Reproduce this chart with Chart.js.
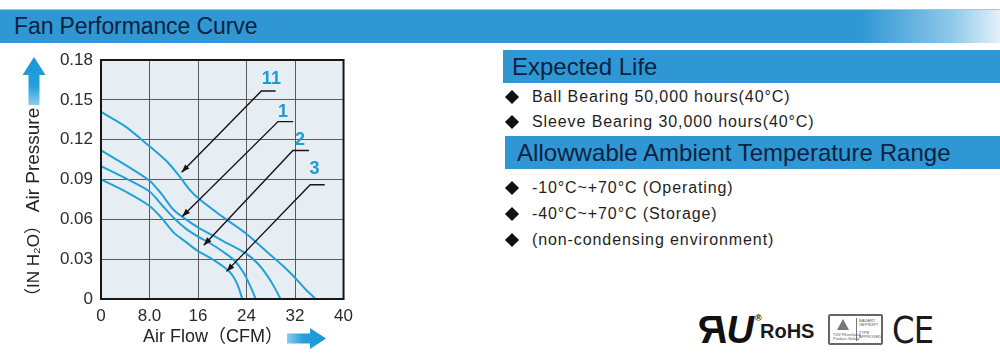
<!DOCTYPE html>
<html>
<head>
<meta charset="utf-8">
<script src="https://cdn.jsdelivr.net/npm/chart.js@4.4.1/dist/chart.umd.min.js"></script>
<style>
  html,body{margin:0;padding:0}
  body{width:1000px;height:355px;overflow:hidden;background:#fff;position:relative;font-family:"Liberation Sans",Arial,"Noto Sans CJK SC",sans-serif;color:#1b1b1b}
  .band{position:absolute;left:0;top:9px;width:1000px;height:34px;background:linear-gradient(to right,#2f97d3 0%,#2f97d3 86%,#8cc6ea 95%,#e4f1fa 100%);border-top:1px solid #8fc9ec;box-sizing:border-box}
  .band span{position:absolute;left:14px;top:3px;font-size:23px;color:#0e2240;letter-spacing:-0.1px}
  .bar{position:absolute;height:33px;background:#2f97d3}
  .bar span{position:absolute;top:3px;font-size:24px;color:#0e2240;white-space:nowrap}
  .item{position:absolute;left:532px;font-size:16px;color:#1e1e1e;white-space:nowrap;line-height:18px;letter-spacing:0.9px}
  .dia{position:absolute;left:507px;width:10px;height:10px;background:#111;transform:rotate(45deg)}
  #chart{position:absolute;left:0;top:0}
  .ur{position:absolute;left:704px;top:309px;font-size:38px;font-weight:bold;font-style:italic;color:#111;letter-spacing:-5px;white-space:nowrap}
  .ur .r{display:inline-block;transform:scaleX(-1)}
  .ur sup{font-size:9px;font-style:normal;vertical-align:top;position:relative;top:4px;left:6px}
  .rohs{position:absolute;left:760px;top:320px;font-size:20px;font-weight:bold;color:#1a1a1a}
  .tuv{position:absolute;left:828px;top:314px;width:55px;height:31px;border:2px solid #666;border-radius:2px;box-sizing:border-box}
  .tuv .div{position:absolute;left:26px;top:2px;width:1px;height:23px;background:#777}
  .tuv .tri{position:absolute;left:7px;top:3px;width:0;height:0;border-left:6px solid transparent;border-right:6px solid transparent;border-bottom:11px solid #777}
  .tuv .t{position:absolute;font-size:4px;color:#555;line-height:4px;white-space:nowrap}
  .ce{position:absolute;left:892px;top:308px;font-size:38px;color:#1a1a1a;font-family:"DejaVu Sans",sans-serif;font-weight:normal;letter-spacing:-1px;transform:scaleX(0.85);transform-origin:0 0}
</style>
</head>
<body>
<div class="band"><span>Fan Performance Curve</span></div>

<div class="bar" style="left:503px;top:50px;width:497px"><span style="left:9px">Expected Life</span></div>
<div class="dia" style="top:92px"></div><div class="item" style="top:88px">Ball Bearing 50,000 hours(40°C)</div>
<div class="dia" style="top:117px"></div><div class="item" style="top:113px">Sleeve Bearing 30,000 hours(40°C)</div>

<div class="bar" style="left:505px;top:136px;width:495px"><span style="left:12px;letter-spacing:0.05px">Allowwable Ambient Temperature Range</span></div>
<div class="dia" style="top:183px"></div><div class="item" style="top:179px">-10°C~+70°C (Operating)</div>
<div class="dia" style="top:209px"></div><div class="item" style="top:205px">-40°C~+70°C (Storage)</div>
<div class="dia" style="top:235px"></div><div class="item" style="top:231px">(non-condensing environment)</div>

<div class="ur"><span class="r">R</span><span>U</span><sup>®</sup></div>
<div class="rohs">RoHS</div>
<div class="tuv"><div class="tri"></div><div class="div"></div>
  <div class="t" style="left:3px;top:17px">TÜV Rheinland</div>
  <div class="t" style="left:3px;top:21px">Product Safety</div>
  <div class="t" style="left:29px;top:3px">BAUART</div>
  <div class="t" style="left:29px;top:7px">GEPRÜFT</div>
  <div class="t" style="left:29px;top:15px">TYPE</div>
  <div class="t" style="left:29px;top:19px">APPROVED</div>
</div>
<div class="ce">CE</div>

<canvas id="chart" width="360" height="355"></canvas>

<script>
// ---- data ----
const flow11 = [0, 4, 8, 11, 13, 14.5, 16, 20, 24, 28, 30, 32, 33.8, 35.4];
const pres11 = [0.141, 0.130, 0.115, 0.103, 0.092, 0.083, 0.076, 0.062, 0.049, 0.033, 0.025, 0.016, 0.007, 0];
const flow1  = [0, 4, 8, 10, 12, 14, 16, 20, 24, 26, 27.5, 28.7, 29.6];
const pres1  = [0.112, 0.101, 0.089, 0.079, 0.067, 0.060, 0.054, 0.044, 0.034, 0.026, 0.017, 0.008, 0];
const flow2  = [0, 4, 8, 10, 12, 14, 16, 18, 20, 22, 23.5, 24.7, 25.5];
const pres2  = [0.100, 0.091, 0.081, 0.071, 0.061, 0.053, 0.047, 0.042, 0.036, 0.029, 0.020, 0.009, 0];
const flow3  = [0, 4, 8, 10, 12, 14, 16, 18, 20, 21.5, 22.5, 23.3];
const pres3  = [0.090, 0.081, 0.070, 0.061, 0.050, 0.043, 0.036, 0.031, 0.025, 0.019, 0.011, 0];

const xTickLabels = ['0', '8.0', '16', '24', '32', '40'];
const yTickLabels = ['0', '0.03', '0.06', '0.09', '0.12', '0.15', '0.18'];

// curve callouts (in data units)
const calloutText  = ['11', '1', '2', '3'];
const calloutLabX  = [28.1, 30.0, 32.8, 35.2];
const calloutLabY  = [0.1655, 0.141, 0.120, 0.0978];
const calloutBarX0 = [26.45, 29.2, 31.65, 34.5];
const calloutBarX1 = [28.8, 31.7, 34.3, 36.9];
const calloutBarY  = [0.1567, 0.1336, 0.1118, 0.086];
const calloutTipX  = [13.3, 13.4, 16.95, 20.7];
const calloutTipY  = [0.0955, 0.0621, 0.0405, 0.0208];

const toPts = (xs, ys) => xs.map((x, i) => ({x, y: ys[i]}));
const CURVE = '#23a0d8';

const decor = {
  id: 'decor',
  beforeDraw(chart) {
    const {ctx, chartArea: a} = chart;
    ctx.save();
    ctx.fillStyle = '#e6eef3';
    ctx.fillRect(a.left, a.top, a.right - a.left, a.bottom - a.top);
    ctx.restore();
  },
  afterDraw(chart) {
    const {ctx, chartArea: a, scales: {x, y}} = chart;
    ctx.save();
    // frame
    ctx.strokeStyle = '#161616';
    ctx.lineWidth = 2;
    ctx.strokeRect(a.left, a.top, a.right - a.left, a.bottom - a.top);

    // callouts
    for (let i = 0; i < calloutText.length; i++) {
      const bx0 = x.getPixelForValue(calloutBarX0[i]);
      const bx1 = x.getPixelForValue(calloutBarX1[i]);
      const by = y.getPixelForValue(calloutBarY[i]);
      const tx = x.getPixelForValue(calloutTipX[i]);
      const ty = y.getPixelForValue(calloutTipY[i]);
      ctx.strokeStyle = '#141414';
      ctx.lineWidth = 1.4;
      ctx.beginPath();
      ctx.moveTo(bx1, by); ctx.lineTo(bx0, by); ctx.lineTo(tx, ty);
      ctx.stroke();
      const ang = Math.atan2(ty - by, tx - bx0);
      const L = 8, W = 3;
      ctx.fillStyle = '#141414';
      ctx.beginPath();
      ctx.moveTo(tx, ty);
      ctx.lineTo(tx - L * Math.cos(ang) + W * Math.sin(ang), ty - L * Math.sin(ang) - W * Math.cos(ang));
      ctx.lineTo(tx - L * Math.cos(ang) - W * Math.sin(ang), ty - L * Math.sin(ang) + W * Math.cos(ang));
      ctx.closePath();
      ctx.fill();
      ctx.fillStyle = '#1e9ad6';
      ctx.font = 'bold 18px "Liberation Sans", Arial, sans-serif';
      ctx.textAlign = 'center';
      ctx.textBaseline = 'middle';
      ctx.fillText(calloutText[i], x.getPixelForValue(calloutLabX[i]), y.getPixelForValue(calloutLabY[i]));
    }

    // axis titles
    ctx.fillStyle = '#222';
    ctx.textBaseline = 'middle';
    ctx.textAlign = 'center';
    ctx.font = '18px "Liberation Sans", Arial, "Noto Sans CJK SC", sans-serif';
    ctx.fillText('Air Flow（CFM）', 213, 337);
    ctx.save();
    ctx.translate(34, 0);
    ctx.rotate(-Math.PI / 2);
    ctx.font = '19px "Liberation Sans", Arial, "Noto Sans CJK SC", sans-serif';
    ctx.fillText('Air Pressure', -160, 0);
    ctx.font = '17px "Liberation Sans", Arial, "Noto Sans CJK SC", sans-serif';
    ctx.fillText('（IN H₂O）', -261, 0);
    ctx.restore();

    // up arrow
    let g = ctx.createLinearGradient(0, 58, 0, 105);
    g.addColorStop(0, '#1796d6'); g.addColorStop(0.6, '#27a0dc'); g.addColorStop(1, '#8ccbee');
    ctx.fillStyle = g;
    ctx.beginPath();
    ctx.moveTo(34, 57); ctx.lineTo(45.5, 75); ctx.lineTo(39.5, 75); ctx.lineTo(39.5, 105);
    ctx.lineTo(28.5, 105); ctx.lineTo(28.5, 75); ctx.lineTo(22.5, 75); ctx.closePath();
    ctx.fill();
    // right arrow
    g = ctx.createLinearGradient(287, 0, 326, 0);
    g.addColorStop(0, '#8ccbee'); g.addColorStop(0.4, '#27a0dc'); g.addColorStop(1, '#1796d6');
    ctx.fillStyle = g;
    ctx.beginPath();
    ctx.moveTo(287, 333.5); ctx.lineTo(310, 333.5); ctx.lineTo(310, 328); ctx.lineTo(326, 338.5);
    ctx.lineTo(310, 349); ctx.lineTo(310, 343.5); ctx.lineTo(287, 343.5); ctx.closePath();
    ctx.fill();
    ctx.restore();
  }
};

const ds = (pts) => ({data: pts, borderColor: CURVE, borderWidth: 2, pointRadius: 0,
  tension: 0.3, fill: false});

new Chart(document.getElementById('chart'), {
  type: 'line',
  data: {
    datasets: [
      ds(toPts(flow11, pres11)),
      ds(toPts(flow1, pres1)),
      ds(toPts(flow2, pres2)),
      ds(toPts(flow3, pres3))
    ]
  },
  options: {
    responsive: false,
    animation: false,
    devicePixelRatio: 1,
    layout: {padding: {left: 40, top: 60, right: 16, bottom: 20}},
    plugins: {legend: {display: false}, tooltip: {enabled: false}},
    scales: {
      x: {
        type: 'linear', min: 0, max: 40,
        afterFit: s => { s.height = 36; },
        ticks: {stepSize: 8, padding: 7, color: '#2a2a2a', maxRotation: 0,
          font: {size: 17, family: '"Liberation Sans", Arial, sans-serif'},
          callback: (v, i) => xTickLabels[i]},
        grid: {color: '#5a5a5a', lineWidth: 1, drawTicks: false},
        border: {color: '#161616', width: 2}
      },
      y: {
        type: 'linear', min: 0, max: 0.18,
        afterFit: s => { s.width = 61; },
        ticks: {stepSize: 0.03, padding: 8, color: '#2a2a2a',
          font: {size: 17, family: '"Liberation Sans", Arial, sans-serif'},
          callback: (v, i) => yTickLabels[i]},
        grid: {color: '#5a5a5a', lineWidth: 1, drawTicks: false},
        border: {color: '#161616', width: 2}
      }
    }
  },
  plugins: [decor]
});
</script>
</body>
</html>
